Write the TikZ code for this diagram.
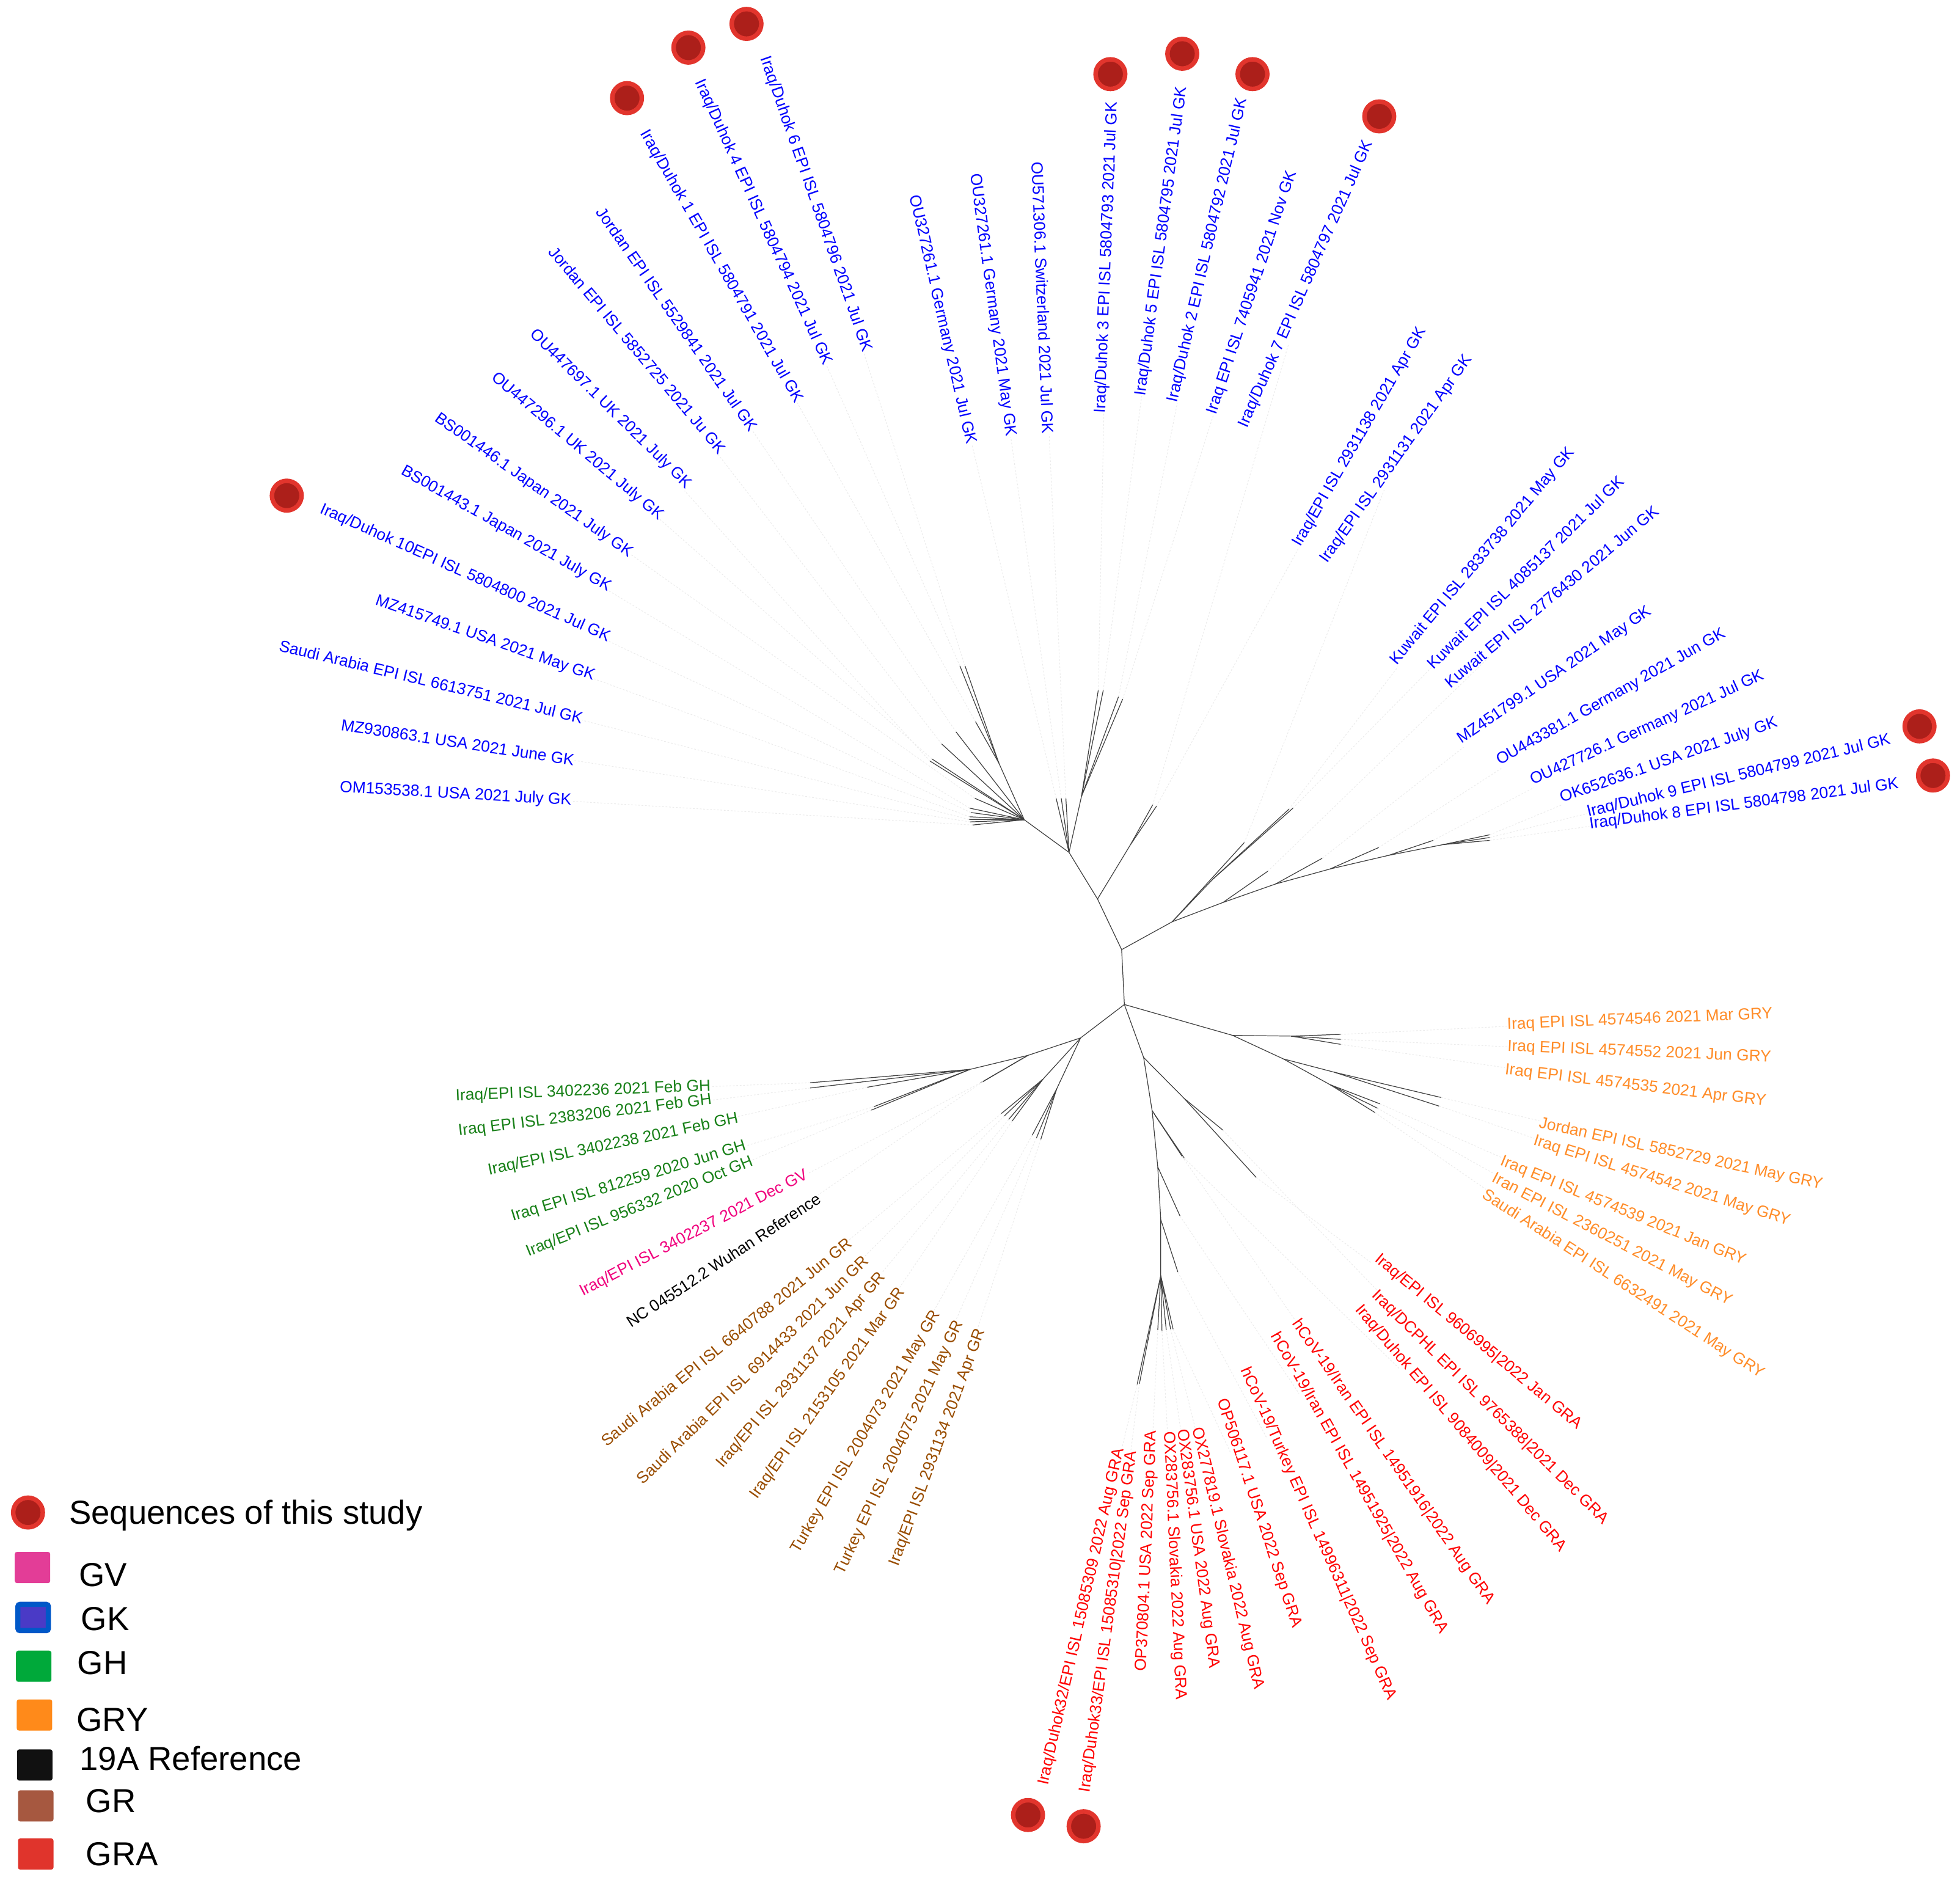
\documentclass[tikz,border=0pt]{standalone}
\usepackage{fontspec}
\setmainfont{Liberation Sans}
\usepackage{tikz}
\usetikzlibrary{positioning}
\definecolor{gkblue}{RGB}{0,0,255}
\definecolor{ghgreen}{RGB}{24,128,24}
\definecolor{gvpink}{RGB}{240,0,125}
\definecolor{grbrown}{RGB}{153,77,0}
\definecolor{gryorange}{RGB}{255,140,40}
\definecolor{grared}{RGB}{255,0,0}
\definecolor{seqred}{RGB}{226,53,45}
\definecolor{seqdark}{RGB}{172,31,26}
\definecolor{keyGV}{RGB}{227,61,151}
\definecolor{keyGKin}{RGB}{74,58,198}
\definecolor{keyGKout}{RGB}{0,88,200}
\definecolor{keyGH}{RGB}{0,169,58}
\definecolor{keyGRY}{RGB}{255,138,26}
\definecolor{keyRef}{RGB}{17,17,17}
\definecolor{keyGR}{RGB}{166,88,64}
\definecolor{keyGRA}{RGB}{224,52,44}

\begin{document}
\begin{tikzpicture}[x=0.2046mm,y=-0.2046mm,
	br/.style={black!75,line width=0.35pt},
	guide/.style={black!8,line width=0.3pt,dash pattern=on 0.8pt off 0.8pt},
	lab/.style={font=\fontsize{7.5}{9}\selectfont,inner sep=0pt},
	gk/.style={lab,text=gkblue},
	gh/.style={lab,text=ghgreen},
	gv/.style={lab,text=gvpink},
	gr/.style={lab,text=grbrown},
	gry/.style={lab,text=gryorange},
	gra/.style={lab,text=grared},
	ref/.style={lab,text=black},
	seq/.style={circle,fill=seqdark,draw=seqred,line width=2.1pt,minimum size=0.485cm,inner sep=0pt},
	key/.style={rounded corners=1pt,minimum width=0.58cm,minimum height=0.51cm,inner sep=0pt},
	keytext/.style={font=\fontsize{15.5}{18}\selectfont,inner sep=0pt,anchor=base west}]
	\useasboundingbox (0,0) rectangle (1568,1506);

	\coordinate (rA) at (897.3,759.7);
	\coordinate (rB) at (899.5,803.6);
	\coordinate (nC) at (878,719.2);
	\coordinate (nC1) at (904.4,675.7);
	\coordinate (nE) at (855.2,681.9);
	\coordinate (nF) at (819.4,655.8);
	\coordinate (nF2) at (799.1,610.5);
	\coordinate (nG) at (865.2,637);
	\coordinate (nD) at (937.8,737.4);
	\coordinate (nD1) at (970.5,703.1);
	\coordinate (nD2) at (978.3,722);
	\coordinate (nD3) at (1020.4,707.2);
	\coordinate (nD4) at (1064,695.2);
	\coordinate (nD5) at (1110.8,684.3);
	\coordinate (nD6) at (1154.4,675.7);
	\coordinate (nH) at (864.5,830.3);
	\coordinate (nH1) at (834.3,863.4);
	\coordinate (nH2) at (845.3,871.2);
	\coordinate (nK) at (822.3,844.3);
	\coordinate (nK2) at (776,855.5);
	\coordinate (nI) at (986.1,828.3);
	\coordinate (nI1) at (1032.9,828.9);
	\coordinate (nI2) at (1026.6,847.1);
	\coordinate (nI3) at (1064,867.7);
	\coordinate (nI4) at (1067.5,857.8);
	\coordinate (nJ) at (914.9,846);
	\coordinate (nJ1) at (921.7,888.6);
	\coordinate (nJ2) at (926.2,933.5);
	\coordinate (nJ3) at (928.6,975.6);
	\coordinate (nL) at (928.6,1020.5);
	\coordinate (nM) at (947.4,878.8);

	\coordinate (t1) at (772,532.7);
	\coordinate (t2) at (767.9,532.7);
	\coordinate (t3) at (780.4,577.3);
	\coordinate (t4) at (764.8,585.5);
	\coordinate (t5) at (753.3,595.1);
	\coordinate (t6) at (743.9,608.8);
	\coordinate (t7) at (745.5,607.1);
	\coordinate (t8) at (779.8,638.6);
	\coordinate (t9) at (775.7,646.5);
	\coordinate (t10) at (776.6,650);
	\coordinate (t11) at (775.7,653.4);
	\coordinate (t12) at (775,655.5);
	\coordinate (t13) at (776,657.5);
	\coordinate (t14) at (778,660);
	\coordinate (t15) at (844.9,638.6);
	\coordinate (t16) at (849,638.6);
	\coordinate (t17) at (852.7,638.6);
	\coordinate (t18) at (878.6,552.2);
	\coordinate (t19) at (882.6,552.2);
	\coordinate (t20) at (894.8,557.4);
	\coordinate (t21) at (898.2,559.1);
	\coordinate (t22) at (922.2,643.8);
	\coordinate (t23) at (925.3,644.8);
	\coordinate (t24) at (995.5,674);
	\coordinate (t25) at (1031.3,647.2);
	\coordinate (t26) at (1034.4,646.5);
	\coordinate (t27) at (1014.2,697);
	\coordinate (t28) at (1057.8,686.6);
	\coordinate (t29) at (1103,678);
	\coordinate (t30) at (1146.6,672.3);
	\coordinate (t31) at (1191.8,667.8);
	\coordinate (t32) at (1191.8,670);
	\coordinate (t33) at (1191.8,672.3);
	\coordinate (t34) at (1072.6,827.5);
	\coordinate (t35) at (1072.6,831.5);
	\coordinate (t36) at (1072.6,835.5);
	\coordinate (t37) at (1152.9,878);
	\coordinate (t38) at (1151.3,884.9);
	\coordinate (t39) at (1104,883.1);
	\coordinate (t40) at (1102,886.6);
	\coordinate (t41) at (1099.9,890);
	\coordinate (t42) at (1005,942);
	\coordinate (t43) at (978.3,904.1);
	\coordinate (t44) at (947.4,926.5);
	\coordinate (t45) at (945.7,925.1);
	\coordinate (t46) at (944,972.8);
	\coordinate (t47) at (942.3,1017.7);
	\coordinate (t48) at (938.5,1063.4);
	\coordinate (t49) at (936.5,1063.4);
	\coordinate (t50) at (933,1064);
	\coordinate (t51) at (929.6,1064.9);
	\coordinate (t52) at (909.7,1107.5);
	\coordinate (t53) at (911.5,1107);
	\coordinate (t54) at (926.2,1064);
	\coordinate (t55) at (801,890.9);
	\coordinate (t56) at (803.4,892.8);
	\coordinate (t57) at (806.9,895.6);
	\coordinate (t58) at (809.6,897);
	\coordinate (t59) at (825.7,908.3);
	\coordinate (t60) at (829.1,910.5);
	\coordinate (t61) at (832.6,911.6);
	\coordinate (t62) at (786.3,865.3);
	\coordinate (t63) at (784.6,866.2);
	\coordinate (t64) at (697.1,888.1);
	\coordinate (t65) at (699.2,885.3);
	\coordinate (t66) at (693.7,869.8);
	\coordinate (t67) at (648.1,870.4);
	\coordinate (t68) at (648.1,866.2);

	\draw[br] (rA) -- (rB);
	\draw[br] (rA) -- (nC) -- (nE) -- (nF);
	\draw[br] (nE) -- (nG);
	\draw[br] (nC) -- (nC1);
	\draw[br] (nF) -- (nF2);
	\draw[br] (rA) -- (nD) -- (nD2) -- (nD3) -- (nD4) -- (nD5) -- (nD6);
	\draw[br] (nD) -- (nD1);
	\draw[br] (rB) -- (nH) -- (nK) -- (nK2);
	\draw[br] (nH) -- (nH1);
	\draw[br] (nH) -- (nH2);
	\draw[br] (rB) -- (nI) -- (nI1);
	\draw[br] (nI) -- (nI2) -- (nI3);
	\draw[br] (nI2) -- (nI4);
	\draw[br] (rB) -- (nJ) -- (nJ1) -- (nJ2) -- (nJ3) -- (nL);
	\draw[br] (nJ) -- (nM);
	\foreach \p/\t in {F2/1,F2/2,F2/3,F/4,F/5,F/6,F/7,F/8,F/9,F/10,F/11,F/12,F/13,F/14,
		E/15,E/16,E/17,G/18,G/19,G/20,G/21,C1/22,C1/23,D/24,D1/25,D1/26,D2/27,D3/28,D4/29,D5/30,D6/31,D6/32,D6/33,
		I1/34,I1/35,I1/36,I4/37,I4/38,I3/39,I3/40,I3/41,M/42,M/43,J1/44,J1/45,J2/46,J3/47,
		L/48,L/49,L/50,L/51,L/52,L/53,L/54,H1/55,H1/56,H1/57,H1/58,H2/59,H2/60,H2/61,
		K/62,K/63,K2/64,K2/65,K2/66,K2/67,K2/68}
		\draw[br] (n\p) -- (t\t);

	\node[gk,rotate=-70.8] (L1) at (652.5,163.3) {Iraq/Duhok 6 EPI ISL 5804796 2021 Jul GK};
	\node[gk,rotate=-65.6] (L2) at (610.5,177.9) {Iraq/Duhok 4 EPI ISL 5804794 2021 Jul GK};
	\node[gk,rotate=-60.2] (L3) at (576.9,213.2) {Iraq/Duhok 1 EPI ISL 5804791 2021 Jul GK};
	\node[gk,rotate=-55.1] (L4) at (541.7,255.3) {Jordan EPI ISL 5529841 2021 Jul GK};
	\node[gk,rotate=-49.9] (L5) at (510,280) {Jordan EPI ISL 5852725 2021 Ju GK};
	\node[gk,rotate=-44.5] (L6) at (488.4,327.4) {OU447697.1 UK 2021 July GK};
	\node[gk,rotate=-40.2] (L7) at (461.8,357.3) {OU447296.1 UK 2021 July GK};
	\node[gk,rotate=-35.2] (L8) at (427,388.5) {BS001446.1 Japan 2021 July GK};
	\node[gk,rotate=-29.6] (L9) at (404.9,423.2) {BS001443.1 Japan 2021 July GK};
	\node[gk,rotate=-24.1] (L10) at (372.2,458.7) {Iraq/Duhok 10EPI ISL 5804800 2021 Jul GK};
	\node[gk,rotate=-19.2] (L11) at (388,511) {MZ415749.1 USA 2021 May GK};
	\node[gk,rotate=-13.5] (L12) at (344.9,545.2) {Saudi Arabia EPI ISL 6613751 2021 Jul GK};
	\node[gk,rotate=-8.6] (L13) at (366.2,593.9) {MZ930863.1 USA 2021 June GK};
	\node[gk,rotate=-3.2] (L14) at (364.5,635.5) {OM153538.1 USA 2021 July GK};
	\node[gk,rotate=-77.1] (L15) at (753.8,255.7) {OU327261.1 Germany 2021 Jul GK};
	\node[gk,rotate=-82.2] (L16) at (793.9,244.2) {OU327261.1 Germany 2021 May GK};
	\node[gk,rotate=-87.7] (L17) at (834.3,238.3) {OU571306.1 Switzerland 2021 Jul GK};
	\node[gk,rotate=87.8] (L18) at (885.6,206) {Iraq/Duhok 3 EPI ISL 5804793 2021 Jul GK};
	\node[gk,rotate=82.4] (L19) at (929.5,193) {Iraq/Duhok 5 EPI ISL 5804795 2021 Jul GK};
	\node[gk,rotate=77.1] (L20) at (966.4,200) {Iraq/Duhok 2 EPI ISL 5804792 2021 Jul GK};
	\node[gk,rotate=71.7] (L21) at (1002,234) {Iraq EPI ISL 7405941 2021 Nov GK};
	\node[gk,rotate=66.2] (L22) at (1045,227.3) {Iraq/Duhok 7 EPI ISL 5804797 2021 Jul GK};
	\node[gk,rotate=59.9] (L23) at (1087.8,349.6) {Iraq/EPI ISL 2931138 2021 Apr GK};
	\node[gk,rotate=54.6] (L24) at (1117.2,367.2) {Iraq/EPI ISL 2931131 2021 Apr GK};
	\node[gk,rotate=50.1] (L25) at (1186.1,445) {Kuwait EPI ISL 2833738 2021 May GK};
	\node[gk,rotate=44.4] (L26) at (1220.4,457.7) {Kuwait EPI ISL 4085137 2021 Jul GK};
	\node[gk,rotate=39.9] (L27) at (1241.2,477.3) {Kuwait EPI ISL 2776430 2021 Jun GK};
	\node[gk,rotate=34.4] (L28) at (1243.9,540.4) {MZ451799.1 USA 2021 May GK};
	\node[gk,rotate=29.6] (L29) at (1289,558) {OU443381.1 Germany 2021 Jun GK};
	\node[gk,rotate=24.6] (L30) at (1317.9,582.5) {OU427726.1 Germany 2021 Jul GK};
	\node[gk,rotate=19.4] (L31) at (1335,608.5) {OK652636.1 USA 2021 July GK};
	\node[gk,rotate=13.5] (L32) at (1391,621.1) {Iraq/Duhok 9 EPI ISL 5804799 2021 Jul GK};
	\node[gk,rotate=7.5] (L33) at (1395.2,643.6) {Iraq/Duhok 8 EPI ISL 5804798 2021 Jul GK};
	\node[gry,rotate=2.4] (L34) at (1311.9,815.9) {Iraq EPI ISL 4574546 2021 Mar GRY};
	\node[gry,rotate=-2.4] (L35) at (1311.4,842) {Iraq EPI ISL 4574552 2021 Jun GRY};
	\node[gry,rotate=-6.9] (L36) at (1308.4,868.8) {Iraq EPI ISL 4574535 2021 Apr GRY};
	\node[gry,rotate=-12.3] (L37) at (1344.6,923.4) {Jordan EPI ISL 5852729 2021 May GRY};
	\node[gry,rotate=-17.5] (L38) at (1329.4,945.1) {Iraq EPI ISL 4574542 2021 May GRY};
	\node[gry,rotate=-22.3] (L39) at (1298.6,969.1) {Iraq EPI ISL 4574539 2021 Jan GRY};
	\node[gry,rotate=-27.6] (L40) at (1289.6,992) {Iran EPI ISL 2360251 2021 May GRY};
	\node[gry,rotate=-33] (L41) at (1298.6,1027.5) {Saudi Arabia EPI ISL 6632491 2021 May GRY};
	\node[gra,rotate=-39.8] (L42) at (1182.6,1073.6) {Iraq/EPI ISL 9606995|2022 Jan GRA};
	\node[gra,rotate=-44.6] (L43) at (1191.9,1125.9) {Iraq/DCPHL EPI ISL 9765388|2021 Dec GRA};
	\node[gra,rotate=-49.7] (L44) at (1168.4,1142.8) {Iraq/Duhok EPI ISL 9084009|2021 Dec GRA};
	\node[gra,rotate=-55.2] (L45) at (1114.4,1169.6) {hCoV-19/Iran EPI ISL 14951916|2022 Aug GRA};
	\node[gra,rotate=-60.4] (L46) at (1087.2,1186.4) {hCoV-19/Iran EPI ISL 14951925|2022 Aug GRA};
	\node[gra,rotate=-66] (L47) at (1054.4,1226.9) {hCoV-19/Turkey EPI ISL 14996311|2022 Sep GRA};
	\node[gra,rotate=-71.6] (L48) at (1007,1210.7) {OP506117.1 USA 2022 Sep GRA};
	\node[gra,rotate=-76.6] (L49) at (982,1246.7) {OX277819.1 Slovakia 2022 Aug GRA};
	\node[gra,rotate=-82.4] (L50) at (958.2,1238.9) {OX283756.1 USA 2022 Aug GRA};
	\node[gra,rotate=-87.5] (L51) at (939.6,1252.5) {OX283756.1 Slovakia 2022 Aug GRA};
	\node[gra,rotate=77.3] (L52) at (865.4,1293.4) {Iraq/Duhok32/EPI ISL 15085309 2022 Aug GRA};
	\node[gra,rotate=82.2] (L53) at (887.3,1297.2) {Iraq/Duhok33/EPI ISL 15085310|2022 Sep GRA};
	\node[gra,rotate=87.6] (L54) at (917.8,1240.9) {OP370804.1 USA 2022 Sep GRA};
	\node[gr,rotate=39.3] (L55) at (581,1073.4) {Saudi Arabia EPI ISL 6640788 2021 Jun GR};
	\node[gr,rotate=44.6] (L56) at (601.8,1095.6) {Saudi Arabia EPI ISL 6914433 2021 Jun GR};
	\node[gr,rotate=49.6] (L57) at (641,1096.2) {Iraq/EPI ISL 2931137 2021 Apr GR};
	\node[gr,rotate=54.5] (L58) at (662.4,1114.8) {Iraq/EPI ISL 2153105 2021 Mar GR};
	\node[gr,rotate=59.4] (L59) at (692.9,1145.4) {Turkey EPI ISL 2004073 2021 May GR};
	\node[gr,rotate=64.6] (L60) at (719.6,1158) {Turkey EPI ISL 2004075 2021 May GR};
	\node[gr,rotate=69.8] (L61) at (750.2,1158) {Iraq/EPI ISL 2931134 2021 Apr GR};
	\node[ref,rotate=33.4] (L62) at (578.8,1008) {NC 045512.2 Wuhan Reference};
	\node[gv,rotate=27.6] (L63) at (555.3,986.7) {Iraq/EPI ISL 3402237 2021 Dec GV};
	\node[gh,rotate=22.1] (L64) at (511.9,965.6) {Iraq/EPI ISL 956332 2020 Oct GH};
	\node[gh,rotate=17] (L65) at (503,945.4) {Iraq EPI ISL 812259 2020 Jun GH};
	\node[gh,rotate=11.8] (L66) at (490.5,915.8) {Iraq/EPI ISL 3402238 2021 Feb GH};
	\node[gh,rotate=7.1] (L67) at (468,892.7) {Iraq EPI ISL 2383206 2021 Feb GH};
	\node[gh,rotate=2.2] (L68) at (466.5,873.2) {Iraq/EPI ISL 3402236 2021 Feb GH};

	\foreach \i in {1,...,68}
		\draw[guide] (t\i) -- (L\i);

	\node[seq] (s1) at (597.2,19.1) {};
	\node[seq] (s2) at (550.7,38.1) {};
	\node[seq] (s3) at (501.6,78.5) {};
	\node[seq] (s10) at (229.4,396.5) {};
	\node[seq] (s18) at (888.3,59.3) {};
	\node[seq] (s19) at (945.8,43) {};
	\node[seq] (s20) at (1002,59.3) {};
	\node[seq] (s22) at (1103.4,93.1) {};
	\node[seq] (s32) at (1535.6,581.1) {};
	\node[seq] (s33) at (1546.4,620.4) {};
	\node[seq] (s52) at (822.4,1452) {};
	\node[seq] (s53) at (866.9,1461) {};

	\node[seq] (keySeq) at (22.4,1210) {};
	\node[keytext] (keySeqT) at (55,1219.2) {Sequences of this study};
	\node[key,fill=keyGV] (keyGVbox) at (26,1254) {};
	\node[keytext] (keyGVT) at (62.8,1268.9) {GV};
	\node[key,fill=keyGKin,draw=keyGKout,line width=2.4pt,minimum width=0.5cm,minimum height=0.43cm] (keyGKbox) at (26.5,1294) {};
	\node[keytext] (keyGKT) at (64.6,1304.4) {GK};
	\node[key,fill=keyGH] (keyGHbox) at (27,1333) {};
	\node[keytext] (keyGHT) at (61.7,1339.5) {GH};
	\node[key,fill=keyGRY] (keyGRYbox) at (27.6,1372) {};
	\node[keytext] (keyGRYT) at (61,1384.9) {GRY};
	\node[key,fill=keyRef] (keyRefbox) at (27.8,1412) {};
	\node[keytext] (keyRefT) at (63.5,1416) {19A Reference};
	\node[key,fill=keyGR] (keyGRbox) at (28.6,1444.7) {};
	\node[keytext] (keyGRT) at (68.4,1450) {GR};
	\node[key,fill=keyGRA] (keyGRAbox) at (28.6,1483.2) {};
	\node[keytext] (keyGRAT) at (68.4,1492.5) {GRA};
\end{tikzpicture}
\end{document}
